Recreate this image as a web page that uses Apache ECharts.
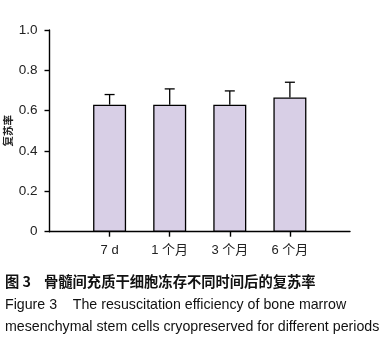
<!DOCTYPE html>
<html>
<head>
<meta charset="utf-8">
<script src="https://cdn.jsdelivr.net/npm/echarts@6/dist/echarts.min.js"></script>
<style>
  html, body { margin: 0; padding: 0; background: #fff; }
  #chart { width: 384px; height: 338px; }
</style>
</head>
<body>
<div id="chart"></div>
<script>
// data
const periods = ['7 d', '1 个月', '3 个月', '6 个月'];
const positions = [1, 2, 3, 4];
const rates = [0.63, 0.63, 0.63, 0.665];
const errors = [0.05, 0.078, 0.068, 0.076];
const yTicks = [0, 0.2, 0.4, 0.6, 0.8, 1.0];

const chart = echarts.init(document.getElementById('chart'));

const barData = positions.map((p, i) => [p, rates[i]]);
const errData = positions.map((p, i) => [p, rates[i], rates[i] + errors[i]]);

const option = {
    animation: false,
    textStyle: { fontFamily: 'Liberation Sans, Arial, sans-serif' },
    grid: { left: 49.5, right: 34, top: 30, bottom: 106.3, containLabel: false, outerBoundsMode: 'none' },
    xAxis: {
        type: 'value', min: 0, max: 5, interval: 1,
        splitLine: { show: false },
        axisLine: { lineStyle: { color: '#000', width: 1.4 } },
        axisTick: { length: 5, lineStyle: { color: '#000', width: 1.4 }, customValues: positions },
        axisLabel: {
            customValues: positions, margin: 12,
            color: '#222', fontSize: 13,
            fontFamily: 'Liberation Sans, "Noto Sans CJK SC", sans-serif',
            formatter: v => periods[positions.indexOf(v)] || ''
        }
    },
    yAxis: {
        type: 'value', min: 0, max: 1, interval: 0.2,
        name: '复苏率', nameLocation: 'middle', nameGap: 36, nameMoveOverlap: false,
        nameTextStyle: { color: '#222', fontSize: 10.5, fontWeight: 'bold', fontFamily: '"Noto Sans CJK SC", sans-serif' },
        splitLine: { show: false },
        axisLine: { show: true, lineStyle: { color: '#000', width: 1.4 } },
        axisTick: { show: true, length: 5, lineStyle: { color: '#000', width: 1.4 } },
        axisLabel: {
            margin: 12, color: '#222', fontSize: 13.5,
            formatter: v => (v === 0 ? '0' : v.toFixed(1))
        }
    },
    series: [
        {
            type: 'bar', data: barData, barWidth: 33,
            itemStyle: { color: '#d8cfe6', borderColor: '#000', borderWidth: 1.3 },
            z: 2
        },
        {
            type: 'custom', data: errData, z: 3,
            renderItem: function(params, api) {
                const base = api.coord([api.value(0), api.value(1)]);
                const top = api.coord([api.value(0), api.value(2)]);
                const half = 5;
                const style = { stroke: '#000', lineWidth: 1.3 };
                return {
                    type: 'group',
                    children: [
                        { type: 'line', shape: { x1: base[0], y1: base[1], x2: top[0], y2: top[1] }, style },
                        { type: 'line', shape: { x1: top[0] - half, y1: top[1], x2: top[0] + half, y2: top[1] }, style }
                    ]
                };
            }
        }
    ],
    graphic: [
        {
            type: 'text', left: 5, top: 274,
            style: { text: '图 3    骨髓间充质干细胞冻存不同时间后的复苏率', fill: '#111',
                     font: 'bold 14.3px "Noto Sans CJK SC", sans-serif' }
        },
        {
            type: 'text', left: 5, top: 298,
            style: { text: 'Figure 3    The resuscitation efficiency of bone marrow', fill: '#111',
                     font: '14.2px "Liberation Sans", Arial, sans-serif' }
        },
        {
            type: 'text', left: 5, top: 320,
            style: { text: 'mesenchymal stem cells cryopreserved for different periods', fill: '#111',
                     font: '14.2px "Liberation Sans", Arial, sans-serif' }
        }
    ]
};

chart.setOption(option);
</script>
</body>
</html>
